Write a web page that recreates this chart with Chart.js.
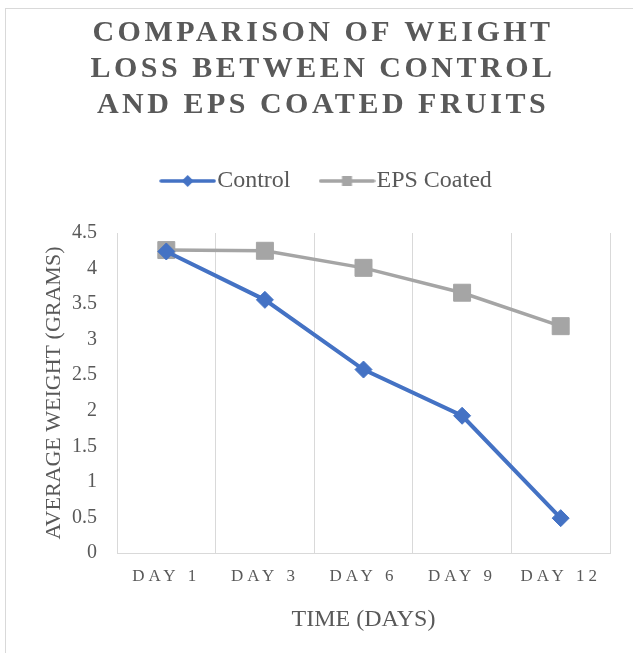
<!DOCTYPE html>
<html>
<head>
<meta charset="utf-8">
<script src="https://cdn.jsdelivr.net/npm/chart.js@4"></script>
<style>
    html, body { margin: 0; padding: 0; background: #fff; overflow: hidden; }
    #box {
        position: absolute; left: 5px; top: 8px;
        width: 634px; height: 660px;
        border: 1px solid #d9d9d9;
    }
</style>
</head>
<body>
<div id="box"><canvas id="chart"></canvas></div>
<script>
// ─── Data ──────────────────────────────────────────────
const days      = ['DAY 1', 'DAY 3', 'DAY 6', 'DAY 9', 'DAY 12'];
const control   = [4.24, 3.56, 2.58, 1.93, 0.49];
const epsCoated = [4.26, 4.25, 4.01, 3.66, 3.19];
const titleLines = ['COMPARISON OF WEIGHT', 'LOSS BETWEEN CONTROL', 'AND EPS COATED FRUITS'];

// ─── Shared config ─────────────────────────────────────
const C = {
    blue:  '#4472C4',
    gray:  '#A5A5A5',
    grid:  '#D9D9D9',
    text:  '#595959',
    serif: "'Liberation Serif', 'Times New Roman', serif"
};

// legend sample: short line with the marker in the middle
function legendSample(color, shape) {
    const cv = document.createElement('canvas');
    cv.width = 57; cv.height = 20;
    const g = cv.getContext('2d');
    g.strokeStyle = color; g.lineWidth = 3.5; g.lineCap = 'round';
    g.beginPath(); g.moveTo(2, 10); g.lineTo(55, 10); g.stroke();
    g.fillStyle = color;
    g.beginPath();
    if (shape === 'diamond') {
        g.moveTo(28.5, 4); g.lineTo(34.5, 10); g.lineTo(28.5, 16); g.lineTo(22.5, 10);
    } else {
        g.rect(23.5, 5, 10, 10);
    }
    g.fill();
    return cv;
}
const samples = [legendSample(C.blue, 'diamond'), legendSample(C.gray, 'square')];

// wraps a box's draw: letter spacing and/or a small x shift
function styled(fn, spacing, shift) {
    return function (...args) {
        const ctx = this.ctx;
        ctx.save();
        if (spacing) ctx.letterSpacing = spacing + 'px';
        if (shift) ctx.translate(shift, 0);
        fn.apply(this, args);
        ctx.restore();
    };
}

const spacingPlugin = {
    id: 'spacing',
    beforeInit(chart) {
        // extra room between legend and plot area
        const fit = chart.legend.fit;
        chart.legend.fit = function () { fit.call(this); this.height += 30; };
    },
    beforeDraw(chart) {
        const t = chart.titleBlock;
        if (t && !t._styled) { t.draw = styled(t.draw, 3.5, 0); t._styled = true; }
        const l = chart.legend;
        if (l && !l._styled) { l.draw = styled(l.draw, 0, 8); l._styled = true; }
        const x = chart.scales.x;
        if (x && !x._styled) { x.drawLabels = styled(x.drawLabels, 4, 0); x._styled = true; }
    }
};

new Chart(document.getElementById('chart').getContext('2d'), {
    type: 'line',
    data: {
        labels: days,
        datasets: [
            {
                label: 'Control',
                data: control,
                borderColor: C.blue,
                backgroundColor: C.blue,
                borderWidth: 4,
                tension: 0,
                pointStyle: 'rectRot',
                pointRadius: 8.5,
                pointBorderWidth: 1,
                pointBackgroundColor: C.blue,
                pointBorderColor: C.blue
            },
            {
                label: 'EPS Coated',
                data: epsCoated,
                borderColor: C.gray,
                backgroundColor: C.gray,
                borderWidth: 3.5,
                tension: 0,
                pointStyle: 'rect',
                pointRadius: 12,
                pointBorderWidth: 1,
                pointBackgroundColor: C.gray,
                pointBorderColor: C.gray
            }
        ]
    },
    options: {
        responsive: true,
        maintainAspectRatio: false,
        animation: false,
        layout: { padding: { left: 0, right: 0, top: 0, bottom: 31 } },
        plugins: {
            title: {
                display: true,
                text: titleLines,
                color: C.text,
                font: { size: 30, weight: 'bold', family: C.serif, lineHeight: 1.2 },
                padding: { top: 6, bottom: 7 }
            },
            legend: {
                display: true,
                position: 'top',
                labels: {
                    color: C.text,
                    font: { size: 24, family: C.serif },
                    usePointStyle: true,
                    pointStyleWidth: 35,
                    padding: 39,
                    generateLabels: chart => {
                        const items = Chart.defaults.plugins.legend.labels.generateLabels(chart);
                        items.forEach((it, i) => { it.pointStyle = samples[i]; });
                        return items;
                    }
                }
            },
            tooltip: { enabled: false }
        },
        scales: {
            x: {
                offset: true,
                grid: { display: true, offset: true, color: C.grid, lineWidth: 1, drawTicks: false },
                border: { display: true, color: C.grid, width: 1 },
                ticks: { color: C.text, font: { size: 17, family: C.serif }, padding: 13, maxRotation: 0 },
                title: {
                    display: true,
                    text: 'TIME (DAYS)',
                    color: C.text,
                    font: { size: 24, family: C.serif, lineHeight: 1.2 },
                    padding: { top: 0, bottom: 4 }
                },
                afterFit: s => { s.height = 85; }
            },
            y: {
                min: 0,
                max: 4.5,
                grid: { display: false, drawTicks: false },
                border: { display: false },
                ticks: {
                    stepSize: 0.5, color: C.text, font: { size: 20, family: C.serif }, padding: 20,
                    callback: v => String(v)
                },
                title: {
                    display: true,
                    text: 'AVERAGE WEIGHT (GRAMS)',
                    color: C.text,
                    font: { size: 22, family: C.serif, lineHeight: 1.2 },
                    padding: { top: 35, bottom: 0 }
                },
                afterFit: s => { s.width = 111; }
            },
            // empty right-hand axis: keeps the plot clear of the right edge
            // while the title and legend stay centred on the whole box
            yRight: {
                position: 'right',
                display: true,
                grid: { display: false, drawTicks: false },
                border: { display: false },
                ticks: { display: false },
                afterFit: s => { s.width = 30; }
            }
        }
    },
    plugins: [spacingPlugin]
});
</script>
</body>
</html>
